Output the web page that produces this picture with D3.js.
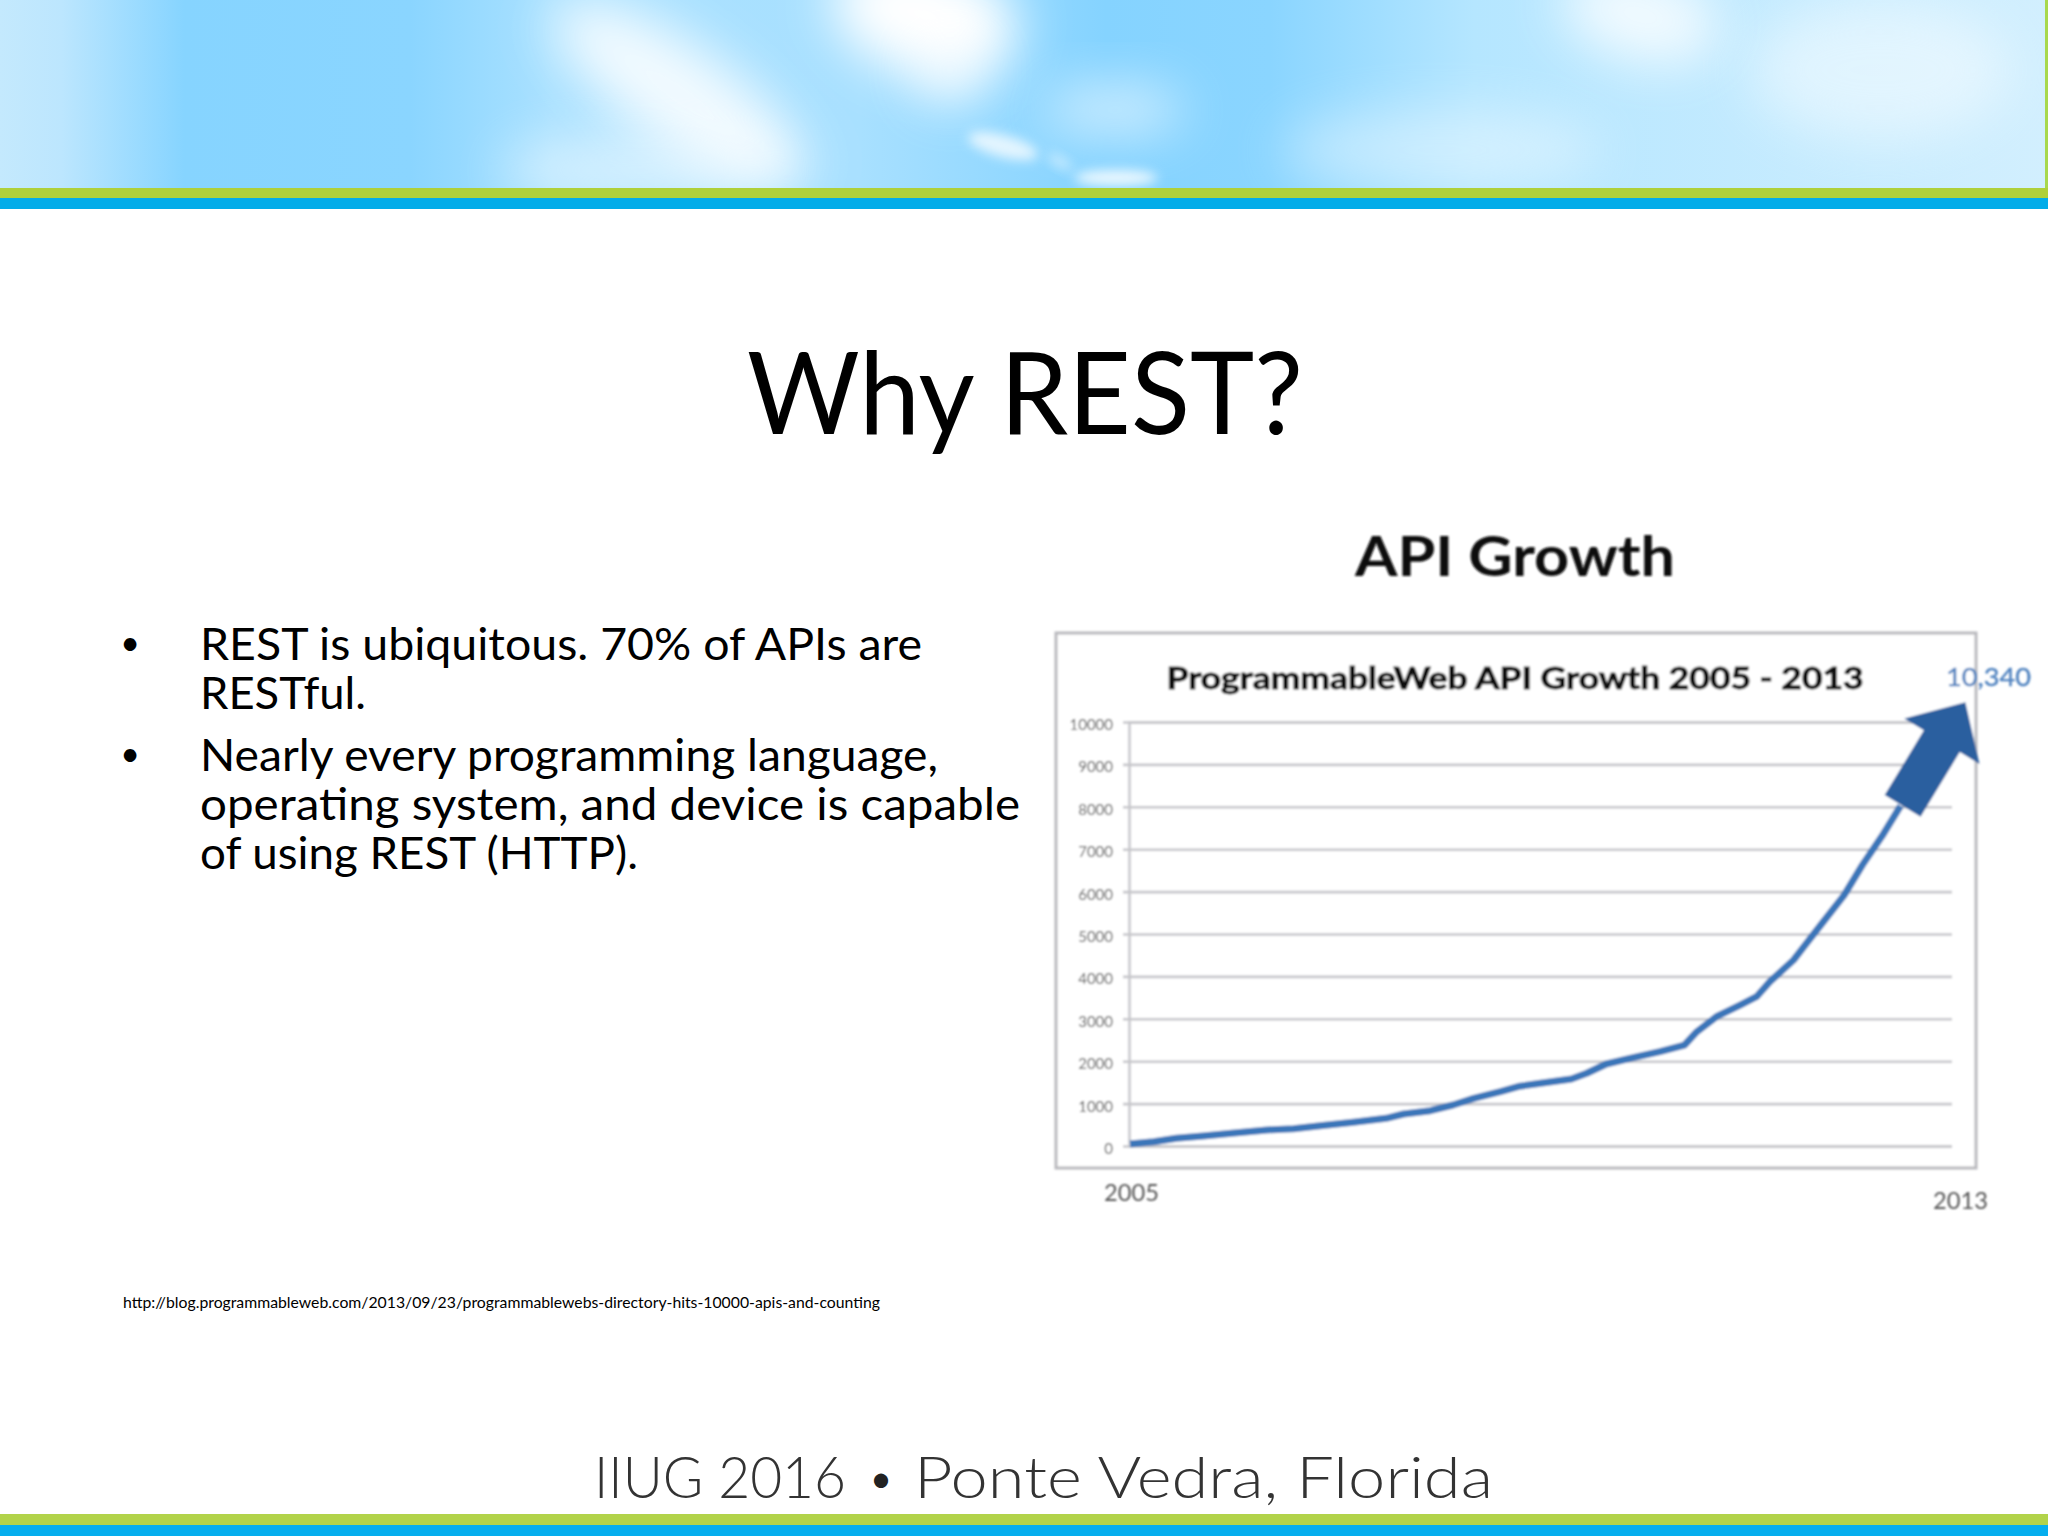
<!DOCTYPE html>
<html>
<head>
<meta charset="utf-8">
<script src="https://cdnjs.cloudflare.com/ajax/libs/d3/7.8.5/d3.min.js"></script>
<style>
  html, body { margin: 0; padding: 0; background: #fff; }
  svg { display: block; }
  text { font-family: Lato, "Open Sans", sans-serif; }
</style>
</head>
<body>
<svg id="slide" width="2048" height="1536"></svg>
<script>
// values
const years = [2005.01, 2005.24, 2005.46, 2005.72, 2006.05, 2006.34, 2006.60, 2006.86, 2007.18, 2007.50,
               2007.67, 2007.93, 2008.15, 2008.35, 2008.61, 2008.80, 2009.00, 2009.30, 2009.45, 2009.64,
               2009.90, 2010.16, 2010.40, 2010.52, 2010.71, 2010.94, 2011.10, 2011.23, 2011.46, 2011.57,
               2011.73, 2011.95, 2012.13, 2012.32, 2012.50];
const apiCounts = [47, 101, 181, 236, 314, 377, 408, 479, 558, 653,
                   755, 833, 967, 1125, 1281, 1410, 1479, 1580, 1715, 1934,
                   2083, 2224, 2382, 2696, 3050, 3325, 3521, 3875, 4387, 4730,
                   5230, 5910, 6630, 7310, 8020];
const yTicks = [0, 1000, 2000, 3000, 4000, 5000, 6000, 7000, 8000, 9000, 10000];
const xLabels = [2005, 2013];
const arrowFrom = [2012.52, 8019];
const arrowTo = [2013.13, 10465];
const bullets = [
  ["REST is ubiquitous. 70% of APIs are", "RESTful."],
  ["Nearly every programming language,", "operating system, and device is capable", "of using REST (HTTP)."]
];

const svg = d3.select("#slide");
const defs = svg.append("defs");
const blur = (id, sd) => defs.append("filter").attr("id", id)
  .attr("x", "-80%").attr("y", "-80%").attr("width", "260%").attr("height", "260%")
  .append("feGaussianBlur").attr("stdDeviation", sd);
blur("soft", 0.8);
blur("cloud", 26);
blur("puff", 6);
defs.append("clipPath").attr("id", "sky").append("rect").attr("width", 2048).attr("height", 188);

// sky banner
const skyStops = [[0, "#c4e9fd"], [0.03, "#bce6fe"], [0.09, "#86d4ff"], [0.2, "#8ad5ff"], [0.27, "#aae1ff"],
                  [0.42, "#a8e0ff"], [0.54, "#85d3ff"], [0.62, "#8ad5ff"], [0.72, "#b5e6ff"], [1, "#d2effe"]];
const skyGrad = defs.append("linearGradient").attr("id", "skyGrad");
skyStops.forEach(s => skyGrad.append("stop").attr("offset", s[0]).attr("stop-color", s[1]));
svg.append("rect").attr("width", 2048).attr("height", 188).attr("fill", "url(#skyGrad)");

// cx, cy, rx, ry, tilt, opacity, filter
const clouds = [
  [680, 95, 150, 50, 35, 0.85, "cloud"], [640, 170, 140, 35, 0, 0.5, "cloud"], [925, 15, 95, 60, 15, 1, "cloud"],
  [950, 70, 35, 35, 0, 0.7, "cloud"], [1640, 15, 80, 45, 15, 0.8, "cloud"],
  [1880, 70, 130, 70, 0, 0.45, "cloud"], [1440, 150, 160, 40, 0, 0.4, "cloud"], [1115, 110, 70, 26, 0, 0.6, "cloud"],
  [1003, 146, 36, 11, 15, 0.75, "puff"], [1116, 178, 42, 8, 0, 0.85, "puff"], [1060, 162, 14, 5, 30, 0.5, "puff"]
];
svg.append("g").attr("clip-path", "url(#sky)").selectAll("ellipse").data(clouds).join("ellipse")
  .attr("rx", d => d[2]).attr("ry", d => d[3])
  .attr("transform", d => `translate(${d[0]},${d[1]}) rotate(${d[4]})`)
  .attr("fill", "#fff").attr("opacity", d => d[5]).attr("filter", d => "url(#" + d[6] + ")");

const bands = [[188, 10, "#afd03a"], [198, 11, "#02ace9"], [1514, 11, "#b2d34a"], [1525, 11, "#05aeee"]];
svg.selectAll("rect.band").data(bands).join("rect").attr("class", "band")
  .attr("x", 0).attr("y", d => d[0]).attr("width", 2048).attr("height", d => d[1]).attr("fill", d => d[2]);
svg.append("rect").attr("x", 2045).attr("y", 0).attr("width", 3).attr("height", 188).attr("fill", "#a8d84e");

// slide text
svg.append("text").attr("x", 1025).attr("y", 434).attr("text-anchor", "middle")
  .attr("font-size", 114).attr("textLength", 556).attr("lengthAdjust", "spacingAndGlyphs").text("Why REST?");

const lineY = [660, 709, 771, 820, 869];
const lineWidths = [722, 166, 738, 820, 438];
svg.selectAll("text.body").data(bullets.flat()).join("text").attr("class", "body")
  .attr("x", 200).attr("y", (d, i) => lineY[i]).attr("font-size", 45)
  .attr("textLength", (d, i) => lineWidths[i]).attr("lengthAdjust", "spacingAndGlyphs").text(d => d);
svg.selectAll("text.dot").data(bullets).join("text").attr("class", "dot")
  .attr("x", 130).attr("text-anchor", "middle").attr("y", (d, i) => (i ? lineY[2] : lineY[0]) - 5)
  .attr("font-size", 34).text("•");

svg.append("text").attr("x", 123).attr("y", 1308).attr("font-size", 15)
  .attr("textLength", 757).attr("lengthAdjust", "spacingAndGlyphs")
  .text("http://blog.programmableweb.com/2013/09/23/programmablewebs-directory-hits-10000-apis-and-counting");

const footer = [["IIUG 2016", 594, 252], ["Ponte Vedra, Florida", 914, 579]];
svg.selectAll("text.foot").data(footer).join("text").attr("class", "foot")
  .attr("x", d => d[1]).attr("y", 1498).attr("font-size", 58).attr("font-weight", 300).attr("fill", "#333")
  .attr("textLength", d => d[2]).attr("lengthAdjust", "spacingAndGlyphs").text(d => d[0]);
svg.append("text").attr("x", 881).attr("y", 1492).attr("text-anchor", "middle")
  .attr("font-size", 38).attr("fill", "#222").text("•");

// chart picture
const chart = svg.append("g").attr("filter", "url(#soft)");

chart.append("text").attr("x", 1515).attr("y", 576).attr("text-anchor", "middle")
  .attr("font-size", 56).attr("font-weight", 700).attr("fill", "#111")
  .attr("textLength", 320).attr("lengthAdjust", "spacingAndGlyphs").text("API Growth");

chart.append("rect").attr("x", 1056).attr("y", 633).attr("width", 920).attr("height", 535)
  .attr("fill", "#fff").attr("stroke", "#b9b9bd").attr("stroke-width", 3);

chart.append("text").attr("x", 1515).attr("y", 689).attr("text-anchor", "middle")
  .attr("font-size", 31).attr("font-weight", 700).attr("fill", "#111")
  .attr("stroke", "#111").attr("stroke-width", 0.9)
  .attr("textLength", 697).attr("lengthAdjust", "spacingAndGlyphs").text("ProgrammableWeb API Growth 2005 - 2013");

const x = d3.scaleLinear().domain([2005, 2013]).range([1129, 1952]);
const y = d3.scaleLinear().domain([0, 10000]).range([1146, 722]);

const yAxis = chart.append("g").attr("transform", "translate(1129,0)")
  .call(d3.axisLeft(y).tickValues(yTicks).tickFormat(d3.format("d")).tickSize(-823).tickPadding(16));
yAxis.select(".domain").attr("stroke", "#cfcfd3").attr("stroke-width", 3);
yAxis.selectAll(".tick line").attr("x1", -6).attr("stroke", "#c6c6ca").attr("stroke-width", 2.6);
yAxis.selectAll(".tick text").attr("font-size", 15).attr("fill", "#555").attr("dy", "0.5em")
  .attr("font-family", "Lato, sans-serif");

const line = d3.line().x((d, i) => x(years[i])).y(d => y(d));
chart.append("path").datum(apiCounts).attr("d", line).attr("fill", "none")
  .attr("stroke", "#3a76b9").attr("stroke-width", 7).attr("stroke-linejoin", "round");

// big arrow on top of the end of the line, built from its two data ends
const ax0 = x(arrowFrom[0]), ay0 = y(arrowFrom[1]), ax1 = x(arrowTo[0]), ay1 = y(arrowTo[1]);
const len = Math.hypot(ax1 - ax0, ay1 - ay0);
const ux = (ax1 - ax0) / len, uy = (ay1 - ay0) / len;
const along = 0.625 * len, shaft = 21, head = 44;
const pt = (a, s) => [ax0 + ux * a - uy * s, ay0 + uy * a + ux * s];
const arrowPts = [pt(0, -shaft), pt(along, -shaft), pt(along, -head), pt(len, 0), pt(along, head), pt(along, shaft), pt(0, shaft)];
chart.append("polygon").attr("points", arrowPts.map(p => p.join(",")).join(" ")).attr("fill", "#2a5f9f");

chart.append("text").attr("x", 1946).attr("y", 686).attr("font-size", 25).attr("fill", "#4f82bf")
  .attr("stroke", "#4f82bf").attr("stroke-width", 0.4)
  .attr("textLength", 85).attr("lengthAdjust", "spacingAndGlyphs").text("10,340");

chart.selectAll("text.year").data(xLabels).join("text").attr("class", "year")
  .attr("x", (d, i) => i ? 1933 : 1104).attr("y", (d, i) => i ? 1209 : 1201)
  .attr("font-size", 24).attr("fill", "#555")
  .attr("textLength", 55).attr("lengthAdjust", "spacingAndGlyphs").text(d => d);
</script>
</body>
</html>
